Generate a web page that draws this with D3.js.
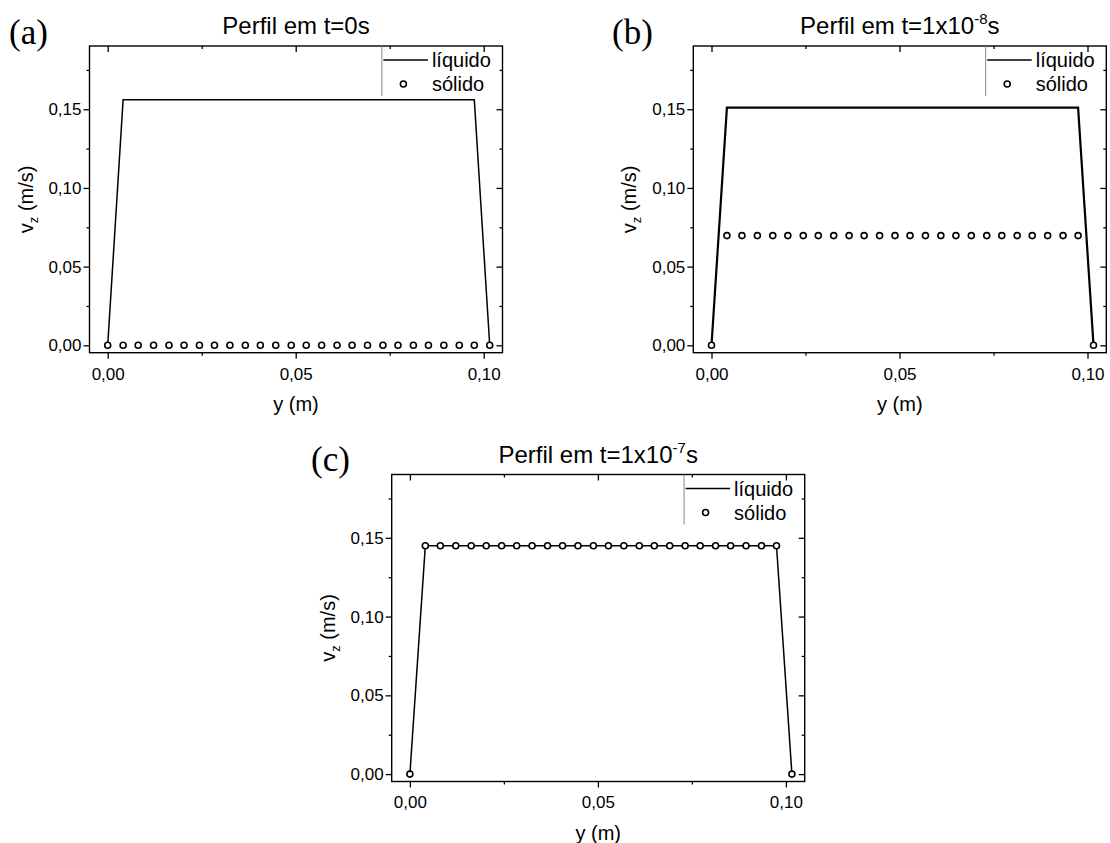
<!DOCTYPE html>
<html>
<head>
<meta charset="utf-8">
<script src="https://cdn.jsdelivr.net/npm/d3@7"></script>
<style>
  html, body { margin: 0; padding: 0; background: #fff; }
  svg { display: block; }
  text { font-family: "Liberation Sans", Arial, sans-serif; fill: #000; }
</style>
</head>
<body>
<svg id="fig" width="1110" height="843"></svg>
<script>
// Radial positions across the channel (m)
const positions = [0, 0.0041, 0.0081, 0.0122, 0.0163, 0.0203, 0.0244, 0.0284, 0.0325,
  0.0366, 0.0406, 0.0447, 0.0488, 0.0528, 0.0569, 0.0610, 0.0650, 0.0691, 0.0732,
  0.0772, 0.0813, 0.0853, 0.0894, 0.0935, 0.0975, 0.1016];

// Velocity profiles v_z (m/s) at each instant
const liquidT0 = [0, 0.156, 0.156, 0.156, 0.156, 0.156, 0.156, 0.156, 0.156, 0.156, 0.156, 0.156, 0.156,
  0.156, 0.156, 0.156, 0.156, 0.156, 0.156, 0.156, 0.156, 0.156, 0.156, 0.156, 0.156, 0];
const solidT0 = [0, 0, 0, 0, 0, 0, 0, 0, 0, 0, 0, 0, 0, 0, 0, 0, 0, 0, 0, 0, 0, 0, 0, 0, 0, 0];

const liquidT1 = [0, 0.151, 0.151, 0.151, 0.151, 0.151, 0.151, 0.151, 0.151, 0.151, 0.151, 0.151, 0.151,
  0.151, 0.151, 0.151, 0.151, 0.151, 0.151, 0.151, 0.151, 0.151, 0.151, 0.151, 0.151, 0];
const solidT1 = [0, 0.0697, 0.0697, 0.0697, 0.0697, 0.0697, 0.0697, 0.0697, 0.0697, 0.0697, 0.0697, 0.0697, 0.0697,
  0.0697, 0.0697, 0.0697, 0.0697, 0.0697, 0.0697, 0.0697, 0.0697, 0.0697, 0.0697, 0.0697, 0.0697, 0];

const liquidT2 = [0, 0.145, 0.145, 0.145, 0.145, 0.145, 0.145, 0.145, 0.145, 0.145, 0.145, 0.145, 0.145,
  0.145, 0.145, 0.145, 0.145, 0.145, 0.145, 0.145, 0.145, 0.145, 0.145, 0.145, 0.145, 0];
const solidT2 = [0, 0.145, 0.145, 0.145, 0.145, 0.145, 0.145, 0.145, 0.145, 0.145, 0.145, 0.145, 0.145,
  0.145, 0.145, 0.145, 0.145, 0.145, 0.145, 0.145, 0.145, 0.145, 0.145, 0.145, 0.145, 0];

// Axis ticks
const xMajorTicks = [0, 0.05, 0.10];
const xMinorTicks = [0.025, 0.075];
const yMajorTicks = [0, 0.05, 0.10, 0.15];
const yMinorTicks = [0.025, 0.075, 0.125, 0.175];

// Text
const panelTags = ["(a)", "(b)", "(c)"];
const titleMain = ["Perfil em t=0s", "Perfil em t=1x10", "Perfil em t=1x10"];
const titleExp = ["", "-8", "-7"];
const titleTail = ["", "s", "s"];
const legendNames = ["líquido", "sólido"];
const xTitle = "y (m)";

const xDomain = [-0.00484, 0.105];
const yDomain = [-0.0047, 0.1902];

const fmt = d3.formatLocale({decimal: ",", thousands: ".", grouping: [3], currency: ["", ""]}).format(".2f");

const panels = [
  {left: 89.5, top: 46, w: 413, h: 306.7, liquid: liquidT0, solid: solidT0, lw: 1.5, tagX: 9, tagY: 44},
  {left: 693.3, top: 46, w: 413, h: 306.7, liquid: liquidT1, solid: solidT1, lw: 2.2, tagX: 612, tagY: 44},
  {left: 391.7, top: 474.5, w: 413, h: 307, liquid: liquidT2, solid: solidT2, lw: 1.5, tagX: 311, tagY: 471}
];

const svg = d3.select("#fig");

panels.forEach((p, i) => {
  const x = d3.scaleLinear().domain(xDomain).range([p.left, p.left + p.w]);
  const y = d3.scaleLinear().domain(yDomain).range([p.top + p.h, p.top]);
  const g = svg.append("g");
  const bottom = p.top + p.h, right = p.left + p.w;

  // bottom axis (outward) and top mirror (inward)
  g.append("g").attr("transform", `translate(0,${bottom})`)
    .call(d3.axisBottom(x).tickValues(xMajorTicks).tickFormat(fmt).tickSize(6).tickSizeOuter(0))
    .call(a => a.select(".domain").remove())
    .call(a => a.selectAll("text").attr("font-size", 17).attr("dy", "1.05em").attr("font-family", "Liberation Sans, Arial, sans-serif"));
  g.append("g").attr("transform", `translate(0,${bottom})`)
    .call(d3.axisBottom(x).tickValues(xMinorTicks).tickFormat("").tickSize(3).tickSizeOuter(0))
    .call(a => a.select(".domain").remove());
  g.append("g").attr("transform", `translate(0,${p.top})`)
    .call(d3.axisBottom(x).tickValues(xMajorTicks).tickFormat("").tickSize(6).tickSizeOuter(0))
    .call(a => a.select(".domain").remove());
  g.append("g").attr("transform", `translate(0,${p.top})`)
    .call(d3.axisBottom(x).tickValues(xMinorTicks).tickFormat("").tickSize(3).tickSizeOuter(0))
    .call(a => a.select(".domain").remove());

  // left axis (outward) and right mirror (inward)
  g.append("g").attr("transform", `translate(${p.left},0)`)
    .call(d3.axisLeft(y).tickValues(yMajorTicks).tickFormat(fmt).tickSize(6).tickSizeOuter(0))
    .call(a => a.select(".domain").remove())
    .call(a => a.selectAll("text").attr("font-size", 17).attr("x", -8).attr("font-family", "Liberation Sans, Arial, sans-serif"));
  g.append("g").attr("transform", `translate(${p.left},0)`)
    .call(d3.axisLeft(y).tickValues(yMinorTicks).tickFormat("").tickSize(3).tickSizeOuter(0))
    .call(a => a.select(".domain").remove());
  g.append("g").attr("transform", `translate(${right},0)`)
    .call(d3.axisLeft(y).tickValues(yMajorTicks).tickFormat("").tickSize(6).tickSizeOuter(0))
    .call(a => a.select(".domain").remove());
  g.append("g").attr("transform", `translate(${right},0)`)
    .call(d3.axisLeft(y).tickValues(yMinorTicks).tickFormat("").tickSize(3).tickSizeOuter(0))
    .call(a => a.select(".domain").remove());

  g.selectAll(".tick line").attr("stroke", "#000").attr("stroke-width", 1.3);

  // frame
  g.append("rect").attr("x", p.left).attr("y", p.top).attr("width", p.w).attr("height", p.h)
    .attr("fill", "none").attr("stroke", "#000").attr("stroke-width", 1.4);

  // liquid profile line
  const pts = positions.map((d, k) => [d, p.liquid[k]]);
  g.append("path").datum(pts)
    .attr("d", d3.line().x(d => x(d[0])).y(d => y(d[1])))
    .attr("fill", "none").attr("stroke", "#000").attr("stroke-width", p.lw).attr("stroke-linejoin", "miter");

  // solid phase markers
  g.selectAll("circle.s").data(positions.map((d, k) => [d, p.solid[k]])).join("circle")
    .attr("class", "s")
    .attr("cx", d => x(d[0])).attr("cy", d => y(d[1])).attr("r", 3)
    .attr("fill", "#fff").attr("stroke", "#000").attr("stroke-width", 1.6);

  // legend
  const lx = p.left + 292.4;
  g.append("line").attr("x1", lx).attr("x2", lx).attr("y1", p.top).attr("y2", p.top + 50)
    .attr("stroke", "#888").attr("stroke-width", 1);
  g.append("line").attr("x1", lx + 1.5).attr("x2", lx + 46).attr("y1", p.top + 14).attr("y2", p.top + 14)
    .attr("stroke", "#000").attr("stroke-width", 1.5);
  g.append("text").attr("x", lx + 50).attr("y", p.top + 21).attr("font-size", 20).text(legendNames[0]);
  g.append("circle").attr("cx", lx + 21.5).attr("cy", p.top + 38).attr("r", 3)
    .attr("fill", "#fff").attr("stroke", "#000").attr("stroke-width", 1.6);
  g.append("text").attr("x", lx + 50).attr("y", p.top + 45).attr("font-size", 20).text(legendNames[1]);

  // title
  const t = g.append("text").attr("x", p.left + p.w / 2).attr("y", p.top - 12)
    .attr("text-anchor", "middle").attr("font-size", 24);
  t.append("tspan").text(titleMain[i]);
  if (titleExp[i]) {
    t.append("tspan").attr("font-size", 15).attr("dy", -10).text(titleExp[i]);
    t.append("tspan").attr("dy", 10).text(titleTail[i]);
  }

  // panel tag
  g.append("text").attr("x", p.tagX).attr("y", p.tagY)
    .style("font-family", "'Liberation Serif', 'Times New Roman', serif")
    .attr("font-size", 35).text(panelTags[i]);

  // axis titles
  g.append("text").attr("x", p.left + p.w / 2).attr("y", bottom + 58)
    .attr("text-anchor", "middle").attr("font-size", 20).text(xTitle);
  const yl = g.append("text")
    .attr("transform", `translate(${p.left - 57},${p.top + p.h / 2}) rotate(-90)`)
    .attr("text-anchor", "middle").attr("font-size", 20);
  yl.append("tspan").text("v");
  yl.append("tspan").attr("font-size", 13).attr("dy", 5).text("z");
  yl.append("tspan").attr("dy", -5).text(" (m/s)");
});
</script>
</body>
</html>
